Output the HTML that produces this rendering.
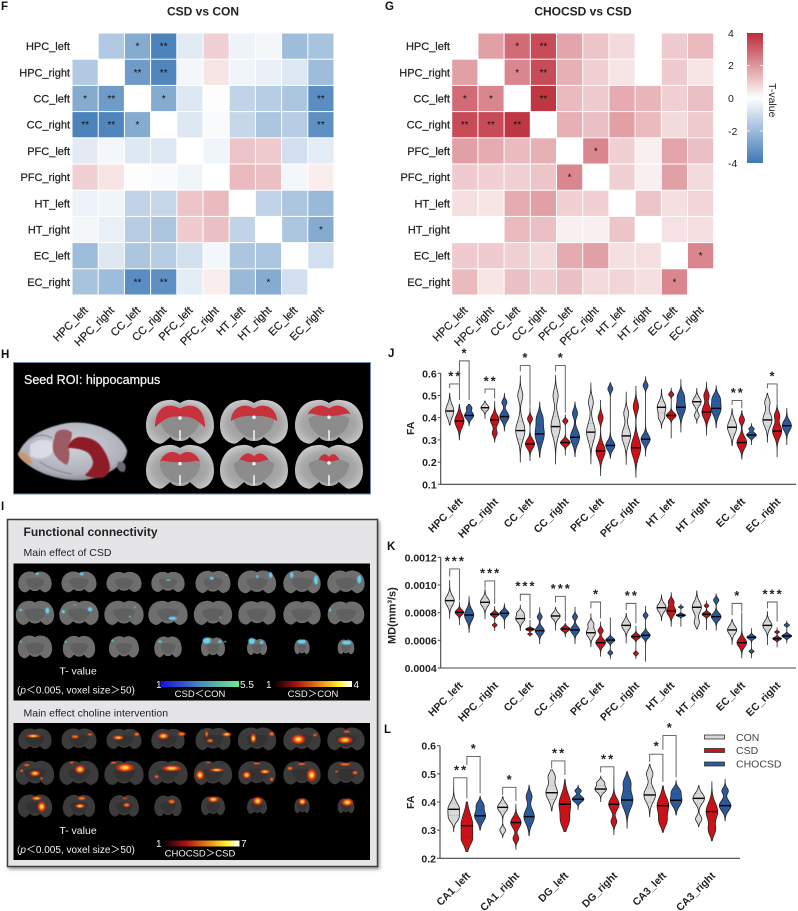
<!DOCTYPE html>
<html lang="en">
<head>
<meta charset="utf-8">
<title>Connectivity figure panels F to L</title>
<style>
html,body{margin:0;padding:0;background:#fff;width:798px;height:911px;overflow:hidden}
svg{display:block;font-family:"Liberation Sans",sans-serif;filter:blur(.3px)}
text{fill:#222}
.panel{font-weight:700;font-size:11.5px;fill:#111}
.wt{fill:#f2f2f2}
.hl{stroke:#222;stroke-width:.22px}
</style>
</head>
<body>
<svg id="fig" xmlns="http://www.w3.org/2000/svg" width="798" height="911" viewBox="0 0 798 911">
<defs>
<linearGradient id="tbar" x1="0" y1="0" x2="0" y2="1"><stop offset="0" stop-color="#bd2c3a"/><stop offset=".5" stop-color="#ffffff"/><stop offset="1" stop-color="#3d79b6"/></linearGradient>
<linearGradient id="coolbar"><stop offset="0" stop-color="#1010e0"/><stop offset=".5" stop-color="#4a88b8"/><stop offset="1" stop-color="#70e890"/></linearGradient>
<linearGradient id="hotbar"><stop offset="0" stop-color="#000"/><stop offset=".3" stop-color="#b01010"/><stop offset=".6" stop-color="#e88a18"/><stop offset=".82" stop-color="#fff020"/><stop offset="1" stop-color="#fff"/></linearGradient>
<radialGradient id="brain3d" cx=".5" cy=".4" r=".68"><stop offset="0" stop-color="#d2d4dc"/><stop offset=".72" stop-color="#adafb9"/><stop offset="1" stop-color="#74767e"/></radialGradient>
<radialGradient id="sliceGrad" cx=".5" cy=".55" r=".6"><stop offset="0" stop-color="#909090"/><stop offset=".65" stop-color="#a8a8a8"/><stop offset="1" stop-color="#cfcfcf"/></radialGradient>
<filter id="soft" x="-50%" y="-50%" width="200%" height="200%"><feGaussianBlur stdDeviation=".8"/></filter>
<filter id="soft2" x="-50%" y="-50%" width="200%" height="200%"><feGaussianBlur stdDeviation=".5"/></filter>
<filter id="shadow" x="-5%" y="-5%" width="110%" height="110%"><feDropShadow dx="1.5" dy="2" stdDeviation="1.5" flood-color="#666" flood-opacity=".7"/></filter>
</defs>

<text class="panel" x="1" y="10">F</text>
<text class="panel" x="385" y="10">G</text>
<text class="panel" x="1" y="358">H</text>
<text class="panel" x="1" y="510">I</text>
<text class="panel" x="388" y="357">J</text>
<text class="panel" x="387" y="550">K</text>
<text class="panel" x="384" y="733">L</text>

<text x="203" y="15.5" text-anchor="middle" font-size="12" font-weight="700">CSD vs CON</text>
<text x="583" y="15.5" text-anchor="middle" font-size="12" font-weight="700">CHOCSD vs CSD</text>
<g id="heatF"></g>
<g id="heatG"></g>

<g>
<rect x="747" y="33" width="16" height="130" fill="url(#tbar)"/>
<rect x="747" y="65" width="3" height=".8" fill="#fff"/><rect x="760" y="65" width="3" height=".8" fill="#fff"/>
<rect x="747" y="130.500" width="3" height=".8" fill="#fff"/><rect x="760" y="130.500" width="3" height=".8" fill="#fff"/>
<text x="728" y="37" font-size="10.500">4</text>
<text x="728" y="69" font-size="10.500">2</text>
<text x="728" y="102" font-size="10.500">0</text>
<text x="728" y="135" font-size="10.500">-2</text>
<text x="728" y="167" font-size="10.500">-4</text>
<text transform="translate(769,83) rotate(90)" font-size="10.500">T-value</text>
</g>

<g>
<rect x="13.500" y="362.500" width="357" height="131.500" fill="#000" stroke="#6f8ba8" stroke-width="1"/>
<text class="wt" x="24" y="384" font-size="12.500" style="fill:#f4f4f4;stroke:#f4f4f4;stroke-width:.25px">Seed ROI: hippocampus</text>
<g>
<path d="M18,455 C22,440 40,428 67,423 C95,420 120,432 127,450 C128,462 110,476 85,480 C60,482 30,472 18,455Z" fill="url(#brain3d)" filter="url(#soft2)"/>
<path d="M18,453 C24,450 30,458 33,464 C26,464 20,460 18,453Z" fill="#c89668" filter="url(#soft2)"/>
<path d="M30,445 C38,438 50,438 56,446 C52,458 40,462 30,456Z" fill="#e4e6ee" opacity=".75" filter="url(#soft)"/>
<path d="M28,440 C36,434 44,434 52,438 M40,462 C48,468 60,472 72,474" fill="none" stroke="#7c7e88" stroke-width="1" filter="url(#soft2)"/>
<path d="M118,462 C124,460 128,466 124,472 C118,472 116,468 118,462Z" fill="#6a6a70" filter="url(#soft2)"/>
<path d="M55,435 C57,428 68,428 72,433 C72,438 70,442 68,445 C70,452 70,460 67,465 C60,462 54,456 53,450 C52,444 54,440 55,435Z" fill="#9c5a62" filter="url(#soft2)"/>
<path d="M68,445 C71,440 76,437 80,437 C90,437 97,441 100,445 C106,452 110,462 110,468 C109,474 105,478 100,478 C94,478 88,477 85,475 C90,470 93,467 93,462 C92,457 90,454 87,452 C81,449 74,448 68,448Z" fill="#8e1f28" filter="url(#soft2)"/>
</g>
<g id="roiSlices"></g>
</g>

<g>
<rect x="7.500" y="519.500" width="370" height="347" fill="#e5e4e6" stroke="#3c3c3c" stroke-width="1.500" filter="url(#shadow)"/>
<text x="23.500" y="536" font-size="12" font-weight="700" fill="#111">Functional connectivity</text>
<text x="23.500" y="556" font-size="10.500">Main effect of CSD</text>
<rect x="13.500" y="563.500" width="356.500" height="137" fill="#000"/>
<text x="23.500" y="716.500" font-size="10.500">Main effect choline intervention</text>
<rect x="13.500" y="723" width="356.500" height="137" fill="#000"/>
<g id="sliceRows"></g>
<text class="wt" x="78" y="674.500" text-anchor="middle" font-size="10.500">T- value</text>
<text class="wt" x="17" y="693.500" font-size="10">(<tspan font-style="italic">p</tspan>＜0.005, voxel size＞50)</text>
<rect x="160.500" y="681" width="78.500" height="6" fill="url(#coolbar)"/>
<text class="wt" x="156" y="688" font-size="10">1</text>
<text class="wt" x="240" y="688" font-size="10">5.5</text>
<text class="wt" x="200" y="697" text-anchor="middle" font-size="9.500">CSD＜CON</text>
<rect x="273" y="681" width="79" height="6" fill="url(#hotbar)"/>
<text class="wt" x="266" y="688" font-size="10">1</text>
<text class="wt" x="353.500" y="688" font-size="10">4</text>
<text class="wt" x="313" y="697" text-anchor="middle" font-size="9.500">CSD＞CON</text>
<text class="wt" x="78" y="834" text-anchor="middle" font-size="10.500">T- value</text>
<text class="wt" x="17" y="853" font-size="10">(<tspan font-style="italic">p</tspan>＜0.005, voxel size＞50)</text>
<rect x="163" y="840.500" width="76.500" height="6" fill="url(#hotbar)"/>
<text class="wt" x="156" y="847" font-size="10">1</text>
<text class="wt" x="241" y="847" font-size="10">7</text>
<text class="wt" x="200" y="856.500" text-anchor="middle" font-size="9.500">CHOCSD＞CSD</text>
</g>

<g id="chartJ"></g>
<g id="chartK"></g>
<g id="chartL"></g>
<text transform="translate(414,435) rotate(-90)" font-size="10.500" font-weight="700">FA</text>
<text transform="translate(395.500,644) rotate(-90)" font-size="11" font-weight="700">MD(mm³/s)</text>
<text transform="translate(414,809) rotate(-90)" font-size="10.500" font-weight="700">FA</text>

<g>
<rect x="704.500" y="735" width="20" height="4" fill="#d8d8d8" stroke="#333" stroke-width=".8"/>
<text x="736" y="741" font-size="10.500" style="fill:#444">CON</text>
<rect x="704.500" y="748.500" width="20" height="4" fill="#cc1118" stroke="#333" stroke-width=".8"/>
<text x="736" y="754" font-size="10.500" style="fill:#444">CSD</text>
<rect x="704.500" y="762" width="20" height="4" fill="#2c5a9c" stroke="#333" stroke-width=".8"/>
<text x="736" y="767.500" font-size="10.500" style="fill:#444">CHOCSD</text>
</g>
</svg>

<script>
// ---------- heatmap data ----------
const regions = ["HPC_left","HPC_right","CC_left","CC_right","PFC_left","PFC_right","HT_left","HT_right","EC_left","EC_right"];
const tValuesF = [
 [null,-1.6,-2.5,-3.7,-.6,.9,-.35,-.25,-2.0,-1.8],
 [-1.6,null,-3.0,-3.6,-.25,.5,-.3,-.45,-.7,-2.0],
 [-2.5,-3.0,null,-2.5,-.7,-.05,-1.3,-1.5,-1.7,-3.4],
 [-3.7,-3.6,-2.5,null,-.7,-.15,-1.2,-1.7,-1.5,-3.3],
 [-.6,-.25,-.7,-.7,null,-.3,1.1,1.0,-.95,-.55],
 [.9,.5,-.05,-.15,-.3,null,1.3,1.2,-.25,.35],
 [-.35,-.3,-1.3,-1.2,1.1,1.3,null,-1.3,-1.7,-2.1],
 [-.25,-.45,-1.5,-1.7,1.0,1.2,-1.3,null,-1.7,-2.5],
 [-2.0,-.7,-1.7,-1.5,-.95,-.25,-1.7,-1.7,null,-.95],
 [-1.8,-2.0,-3.4,-3.3,-.55,.35,-2.1,-2.5,-.95,null]];
const tValuesG = [
 [null,1.8,2.8,3.4,1.7,1.1,.7,0,1.0,1.3],
 [1.8,null,2.3,3.4,1.5,.9,.5,-.03,1.0,.5],
 [2.8,2.3,null,3.8,1.3,1.0,1.6,1.4,.9,1.2],
 [3.4,3.4,3.8,null,1.5,1.2,1.8,1.3,.7,1.0],
 [1.8,1.6,1.3,1.5,null,2.3,.9,.3,1.7,1.2],
 [1.0,.9,.9,1.1,2.3,null,.9,.3,1.8,.7],
 [.6,.5,1.6,1.8,.9,.9,null,1.1,.6,.8],
 [0,-.03,1.3,1.2,.3,.3,1.1,null,.55,.6],
 [1.0,1.0,.9,.7,1.6,1.8,.6,.6,null,2.3],
 [1.3,.5,1.2,.9,1.2,.7,.8,.6,2.3,null]];
const starsF = [
 ["","","*","**","","","","","",""],
 ["","","**","**","","","","","",""],
 ["*","**","","*","","","","","","**"],
 ["**","**","*","","","","","","","**"],
 ["","","","","","","","","",""],
 ["","","","","","","","","",""],
 ["","","","","","","","","",""],
 ["","","","","","","","","","*"],
 ["","","","","","","","","",""],
 ["","","**","**","","","","*","",""]];
const starsG = [
 ["","","*","**","","","","","",""],
 ["","","*","**","","","","","",""],
 ["*","*","","**","","","","","",""],
 ["**","**","**","","","","","","",""],
 ["","","","","","*","","","",""],
 ["","","","","*","","","","",""],
 ["","","","","","","","","",""],
 ["","","","","","","","","",""],
 ["","","","","","","","","","*"],
 ["","","","","","","","","*",""]];

// ---------- violin data: [low, high, median, peak density, spread, secondary mode] ----------
const wmGroups = ["HPC_left","HPC_right","CC_left","CC_right","PFC_left","PFC_right","HT_left","HT_right","EC_left","EC_right"];
const faTicks = [.1,.2,.3,.4,.5,.6];
const faTickLabels = ["0.1","0.2","0.3","0.4","0.5","0.6"];
const faCon = [[.367,.51,.43,.8,.028],[.395,.475,.445,.8,.012],[.2,.59,.342,.9,.04,.5],[.19,.59,.36,.9,.045,.5],[.192,.558,.335,.85,.04,.47],[.19,.517,.318,.85,.035,.42],[.352,.528,.447,.85,.025,.4],[.375,.532,.472,.85,.018,.41],[.274,.44,.357,.9,.03],[.29,.51,.39,.9,.03,.47]];
const faCsd = [[.3,.46,.385,.9,.028],[.29,.475,.39,.85,.022,.33],[.205,.447,.282,.9,.02,.395],[.23,.415,.288,.95,.012,.385],[.14,.48,.25,.9,.03,.4],[.132,.543,.265,.95,.04,.45],[.307,.535,.41,.95,.012,.505],[.32,.562,.426,.9,.028,.5],[.214,.432,.288,.95,.025,.39],[.222,.462,.34,.9,.028,.41]];
const faCho = [[.363,.46,.41,.9,.015,.445],[.34,.51,.405,.9,.02,.47],[.222,.47,.327,.9,.04,.4],[.225,.47,.312,.9,.03,.42],[.217,.558,.275,.9,.02,.53],[.225,.585,.303,.9,.02,.545],[.334,.573,.447,.9,.03,.5],[.355,.543,.442,.95,.03,.49],[.277,.375,.322,.95,.01,.35],[.277,.442,.364,.9,.022]];
const faBrackets = [[0,0,1,.552,.532,.48,"**"],[0,1,2,.656,.555,.48,"*"],[1,0,1,.529,.51,.487,"**"],[2,0,1,.635,.608,.45,"*"],[3,0,1,.635,.608,.423,"*"],[8,0,1,.477,.457,.442,"**"],[9,0,1,.552,.532,.465,"*"]];

// MD values are in units of 1e-4 mm3/s
const mdTicks = [4,6,8,10,12];
const mdTickLabels = ["0.0004","0.0006","0.0008","0.0010","0.0012"];
const mdCon = [[7.59,10.36,8.87,.9,.35],[7.52,9.69,8.75,.9,.3],[6.7,8.55,7.57,.9,.25,8],[6.7,8.39,7.76,.9,.22],[5.54,7.95,6.55,.9,.3,7.2],[5.78,7.95,7.08,.9,.3],[7.42,9.28,8.36,.9,.3],[6.82,9.57,8.39,.9,.4,7.3],[5.71,7.52,6.75,.9,.3],[5.66,8.07,7.08,.9,.3]];
const mdCsd = [[7.1,8.8,8.02,.85,.18],[6.67,8.48,7.88,.85,.13,7.1],[6.26,7.47,6.8,.85,.08,6.45],[6.22,7.23,6.82,.9,.15],[4.82,7.35,5.83,.95,.25,6.7],[4.65,7.04,6.27,.9,.15,5.05],[6.99,9.47,8.12,.9,.3,8.8],[6.75,8.87,7.88,.85,.13,8.5],[4.7,8.02,5.83,.95,.3],[5.49,6.94,6.12,.85,.1,6.6]];
const mdCho = [[6.58,9.16,7.83,.9,.4],[6.84,8.63,7.95,.9,.2],[5.73,8.39,6.7,.9,.25,7.7],[5.73,8.43,6.75,.9,.25,7.7],[4.63,7.66,6.02,.9,.15,5.1],[4.46,8.48,6.36,.9,.2,7.8],[6.99,8.63,7.81,.9,.08,8.4],[6.7,9.35,7.71,.95,.25,8.9],[4.7,6.87,6.22,.9,.12,5.2],[5.78,7.42,6.31,.95,.12,7.1]];
const mdBrackets = [[0,0,1,11.16,10.6,8.87,"***"],[1,0,1,10.29,9.76,8.63,"***"],[2,0,1,9.33,8.84,7.59,"***"],[3,0,1,9.18,8.75,7.35,"***"],[4,0,1,8.77,8.31,7.59,"*"],[5,0,1,8.67,8.19,7.23,"**"],[8,0,1,8.67,7.83,8.07,"*"],[9,0,1,8.77,8.31,7.35,"***"]];

const hipGroups = ["CA1_left","CA1_right","DG_left","DG_right","CA3_left","CA3_right"];
const hipTicks = [.2,.3,.4,.5,.6];
const hipTickLabels = ["0.2","0.3","0.4","0.5","0.6"];
const hipCon = [[.295,.454,.374,1,.022,.34],[.273,.419,.381,.9,.015,.3],[.368,.514,.433,1,.025,.49],[.4,.492,.446,1,.012,.47],[.348,.534,.425,1,.025,.5],[.312,.458,.413,1,.018,.34]];
const hipCsd = [[.224,.4,.316,1,.04,.27],[.232,.392,.327,.9,.018,.27],[.295,.48,.392,1,.035,.33],[.283,.492,.392,.9,.02,.33],[.292,.457,.387,1,.03,.33],[.262,.472,.366,1,.03,.3]];
const hipCho = [[.3,.421,.351,.95,.02,.39],[.28,.46,.348,.9,.025,.42],[.372,.46,.41,1,.01,.44],[.307,.508,.407,1,.03,.47],[.354,.476,.406,1,.02,.44],[.333,.482,.387,1,.018,.44]];
const hipBrackets = [[0,0,1,.486,.454,.413,"**"],[0,1,2,.562,.531,.431,"*"],[1,0,1,.452,.425,.404,"*"],[2,0,1,.546,.52,.496,"**"],[3,0,1,.525,.505,.49,"**"],[4,0,1,.57,.543,.472,"*"],[4,1,2,.636,.585,.488,"*"]];

// ---------- helpers ----------
const NS = "http://www.w3.org/2000/svg";
function mk(tag, attrs, parent){
  const e = document.createElementNS(NS, tag);
  for (const k in attrs) e.setAttribute(k, attrs[k]);
  parent.appendChild(e);
  return e;
}
function mix(a,b,t){ return a.map((v,i)=>Math.round(v+(b[i]-v)*t)); }
function heatColor(v){
  const t = Math.min(1,Math.abs(v)/4);
  const c = v>=0 ? mix([255,255,255],[189,44,58],t) : mix([255,255,255],[61,121,182],t);
  return "rgb("+c.join(",")+")";
}

function drawHeat(host, values, stars, left, labelX){
  const top = 33, pitch = 26.2;
  const cellX = i => left + i*pitch;
  const cellY = i => top + i*pitch;
  regions.forEach((name,r)=>{
    const yl = mk("text",{x:labelX,y:cellY(r)+pitch/2+4,"text-anchor":"end","font-size":11,"class":"hl"},host);
    yl.textContent = name;
    
    
    const xl = mk("text",{"text-anchor":"end","font-size":11,"class":"hl",transform:"translate("+(cellX(r)+pitch/2+3.5)+",311) rotate(-45)"},host);
    xl.textContent = name;
    
    
    values[r].forEach((v,c)=>{
      if (v===null) return;
      const cell = mk("rect",{x:cellX(c)+.5,y:cellY(r)+.5,width:pitch-1,height:pitch-1,fill:heatColor(v)},host);
      
      
      if (stars[r][c]){
        const s = mk("text",{x:cellX(c)+pitch/2,y:cellY(r)+pitch/2+3.5,"text-anchor":"middle","font-size":10,style:"fill:#111"},host);
        s.textContent = stars[r][c];
        
        
      }
    });
  });
}
drawHeat(document.getElementById("heatF"), tValuesF, starsF, 72, 70);
drawHeat(document.getElementById("heatG"), tValuesG, starsG, 451.7, 450);

function drawViolins(host, o){
  const yScale = v => o.top + (o.max-v)/(o.max-o.min)*(o.bottom-o.top);
  const xScale = (g,s) => o.x0 + g*o.pitch + s*o.gap;
  const fills = ["#d9d9d9","#cc1118","#2c5a9c"];
  const seriesNames = ["con","csd","chocsd"];
  const axis = mk("path",{d:"M"+o.left+","+yScale(o.max)+"V"+o.bottom+"H"+o.right,fill:"none",stroke:"#444","stroke-width":1.1},host);
  
  
  o.ticks.forEach((t,i)=>{
    const m = mk("line",{x1:o.left-3,x2:o.left,y1:yScale(t),y2:yScale(t),stroke:"#444","stroke-width":1},host);
    
    
    const l = mk("text",{x:o.left-4,y:yScale(t)+4,"text-anchor":"end","font-size":10.5,"font-weight":700},host);
    l.textContent = o.tickLabels[i];
    
    
  });
  o.groups.forEach((g,i)=>{
    const l = mk("text",{"text-anchor":"end","font-size":10.5,"font-weight":700,transform:"translate("+(xScale(i,1)+4)+","+(o.bottom+18)+") rotate(-45)"},host);
    l.textContent = g;
    
    
  });
  o.series.forEach((rows,s)=>{
    rows.forEach((row,g)=>{
      const [low,high,median,density,spread,bump] = row;
      const cx = xScale(g,s);
      const shape = v => {
        let d = Math.exp(-Math.pow(v-median,2)/(2*spread*spread));
        if (bump!==undefined) d += .55*Math.exp(-Math.pow(v-bump,2)/(2*Math.pow(spread*.6,2)));
        return Math.min(1,d)*density*o.halfWidth;
      };
      const steps = 48;
      let right = "", leftSide = "";
      for (let k=0;k<=steps;k++){
        const v = low+(high-low)*k/steps;
        const w = shape(v);
        right += (k?"L":"M")+(cx+w).toFixed(2)+","+yScale(v).toFixed(2);
        leftSide = "L"+(cx-w).toFixed(2)+","+yScale(v).toFixed(2)+leftSide;
      }
      const p = mk("path",{d:right+leftSide+"Z",fill:fills[s],stroke:"#262626","stroke-width":.8},host);
      
      
      [median-spread,median+spread].forEach(q=>{
        if (q<=low||q>=high) return;
        const w = shape(q);
        const d = mk("line",{x1:cx-w,x2:cx+w,y1:yScale(q),y2:yScale(q),stroke:"#222","stroke-width":.35,"stroke-dasharray":"1 1",opacity:.6},host);
        
        
      });
      const w = Math.max(shape(median),1.5);
      const m = mk("line",{x1:cx-w,x2:cx+w,y1:yScale(median),y2:yScale(median),stroke:"#000","stroke-width":1.4},host);
      
      
    });
  });
  o.brackets.forEach(b=>{
    const [g,a,z,topV,leftV,rightV,label] = b;
    const xa = xScale(g,a), xz = xScale(g,z);
    const line = mk("path",{d:"M"+xa+","+yScale(leftV)+"V"+yScale(topV)+"H"+xz+"V"+yScale(rightV),fill:"none",stroke:"#555","stroke-width":.9},host);
    
    
    const t = mk("text",{x:(xa+xz)/2+.8,y:yScale(topV)-3.5,"text-anchor":"middle","font-size":13,"font-weight":700,"letter-spacing":2},host);
    t.textContent = label;
    
    
  });
}
drawViolins(document.getElementById("chartJ"),{groups:wmGroups,series:[faCon,faCsd,faCho],brackets:faBrackets,ticks:faTicks,tickLabels:faTickLabels,min:.1,max:.6,top:373.3,bottom:484.3,left:440.7,right:796,x0:449.7,pitch:35.3,gap:9.7,halfWidth:5.1});
drawViolins(document.getElementById("chartK"),{groups:wmGroups,series:[mdCon,mdCsd,mdCho],brackets:mdBrackets,ticks:mdTicks,tickLabels:mdTickLabels,min:4,max:12,top:557.3,bottom:668,left:440.7,right:796,x0:449.7,pitch:35.3,gap:9.7,halfWidth:5.1});
drawViolins(document.getElementById("chartL"),{groups:hipGroups,series:[hipCon,hipCsd,hipCho],brackets:hipBrackets,ticks:hipTicks,tickLabels:hipTickLabels,min:.2,max:.6,top:745.7,bottom:858.3,left:440,right:740,x0:453.7,pitch:49,gap:13.2,halfWidth:5.8});

// ---------- imagery: brain slices ----------
const SLICE = "M0,-28 C-8,-33 -14,-33 -20,-32 C-40,-30 -50,-12 -50,5 C-50,20 -42,30 -30,32 C-24,32 -20,26 -14,22 C-10,30 10,30 14,22 C20,26 24,32 30,32 C42,30 50,20 50,5 C50,-12 40,-30 20,-32 C14,-33 8,-33 0,-28Z";
const roiHost = document.getElementById("roiSlices");
const roiCols = [180,254,329];
const roiRows = [422,467];
const roiHoods = [[37,-24,8,-8],[34,-24,-1,-9],[31,-24,-11,-9],[29,-22,-7,-7],[22,-20,-9,-7],[16,-19,-9,-8]];
roiHoods.forEach((h,i)=>{
  const [w,t,b,n] = h;
  const g = mk("g",{transform:"translate("+roiCols[i%3]+","+roiRows[Math.floor(i/3)]+") scale(.68)",filter:"url(#soft2)"},roiHost);
  
  
  mk("path",{d:SLICE,fill:"url(#sliceGrad)"},g);
  mk("path",{d:"M-30,-5 C-20,-14 20,-14 30,-5 C28,12 16,22 0,24 C-16,22 -28,12 -30,-5Z",fill:"#8c8c8c"},g);
  mk("rect",{x:-1.2,y:12,width:2.4,height:15,fill:"#eee"},g);
  mk("path",{d:"M"+(-w)+","+b+" C"+(-w*.98)+","+(t+8)+" "+(-w*.7)+","+t+" "+(-w*.38)+","+t+" C"+(-w*.2)+","+t+" "+(-w*.1)+","+(t+3)+" 0,"+(t+4)+" C"+(w*.1)+","+(t+3)+" "+(w*.2)+","+t+" "+(w*.38)+","+t+" C"+(w*.7)+","+t+" "+(w*.98)+","+(t+8)+" "+w+","+b+" C"+(w*.85)+","+(b-4)+" "+(w*.6)+","+n+" "+(w*.15)+","+n+" L"+(-w*.15)+","+n+" C"+(-w*.6)+","+n+" "+(-w*.85)+","+(b-4)+" "+(-w)+","+b+"Z",fill:"#c8323c"},g);
  mk("circle",{cx:0,cy:n+2,r:2.6,fill:"#f4f4f4"},g);
});

const rowsHost = document.getElementById("sliceRows");
const colX = [35,79,124,168,213,257,302,346];
const rowWidth = [[100,105,105,100,105,115,112,112],[115,118,118,118,115,112,112,110],[103,97,90,82,72,60,46,50]];
const rowHeight = [[62,62,60,60,66,68,68,68],[72,72,72,72,72,70,70,68],[68,66,64,62,56,48,44,44]];
function drawSliceRow(cy, r, fill, inner){
  colX.forEach((x,i)=>{
    const sx = rowWidth[r][i]/3/100, sy = rowHeight[r][i]/3/64;
    const g = mk("g",{transform:"translate("+x+","+cy+") scale("+sx+","+sy+")",filter:"url(#soft2)"},rowsHost);
    
    
    mk("path",{d:SLICE,fill:fill},g);
    mk("path",{d:"M-28,-6 C-16,-14 16,-14 28,-6 C26,12 14,20 0,22 C-14,20 -26,12 -28,-6Z",fill:inner},g);
  });
}
[0,1,2].forEach(r=>drawSliceRow([582,613,647][r],r,"#6e6e6e","#606060"));
[0,1,2].forEach(r=>drawSliceRow([739,773,806][r],r,"#3a3a3a","#303030"));

const coolBlobs = [[112,192,5,3],[245,192,6,4],[505,210,8,2],[635,205,6,4],[680,195,4,2],[772,200,3,5],[812,195,5,9],[875,195,5,9],[948,210,6,14],[1078,208,6,12],[62,300,5,3],[142,302,6,9],[190,305,5,5],[225,285,3,2],[270,298,7,6],[405,292,3,2],[390,320,3,3],[518,325,12,5],[660,322,3,2],[990,300,3,5],[62,395,3,3],[197,395,3,3],[337,392,3,3],[480,395,6,3],[620,392,12,9],[660,395,5,4],[675,395,4,2],[755,393,10,9],[785,397,5,5],[905,395,13,6],[1040,398,14,6]];
coolBlobs.forEach(b=>{
  const e = mk("ellipse",{cx:b[0]/3,cy:510+b[1]/3,rx:b[2]/3,ry:b[3]/3,fill:"#66d2ee",filter:"url(#soft2)"},rowsHost);
  
  
});
const hotBlobs = [[100,108,22,5],[225,110,12,5],[270,103,8,3],[355,113,16,6],[410,103,8,5],[490,108,16,9],[545,102,12,6],[620,102,4,10],[630,122,10,5],[680,103,14,6],[760,115,8,14],[815,102,8,6],[895,118,20,14],[945,105,6,4],[1035,120,22,10],[1040,95,12,3],[80,195,10,3],[65,212,5,4],[105,220,15,8],[125,235,4,4],[240,208,15,12],[215,188,6,3],[375,203,26,12],[340,188,10,3],[515,205,28,8],[470,230,6,5],[600,225,12,14],[650,210,22,5],[625,188,8,2],[740,225,12,10],[795,215,15,6],[815,238,6,5],[770,190,12,3],[905,192,14,3],[935,225,14,18],[870,205,8,5],[1035,193,18,4],[1065,218,8,5],[1010,215,5,3],[110,295,16,5],[125,320,12,15],[245,295,12,5],[240,318,15,6],[380,315,10,6],[375,295,8,2],[515,305,10,6],[640,298,16,8],[773,303,14,12],[907,305,11,10],[1042,307,17,11]];
hotBlobs.forEach(b=>{
  const g = mk("g",{filter:"url(#soft2)"},rowsHost);
  
  
  const cx = b[0]/3, cy = 700+b[1]/3, rx = b[2]/3, ry = b[3]/3;
  mk("ellipse",{cx:cx,cy:cy,rx:rx,ry:ry,fill:"#d62c16"},g);
  mk("ellipse",{cx:cx,cy:cy,rx:rx*.62,ry:ry*.62,fill:"#f0801e"},g);
  if (rx*ry>8) mk("ellipse",{cx:cx,cy:cy,rx:rx*.36,ry:ry*.36,fill:"#ffe04a"},g);
});
</script>
</body>
</html>
